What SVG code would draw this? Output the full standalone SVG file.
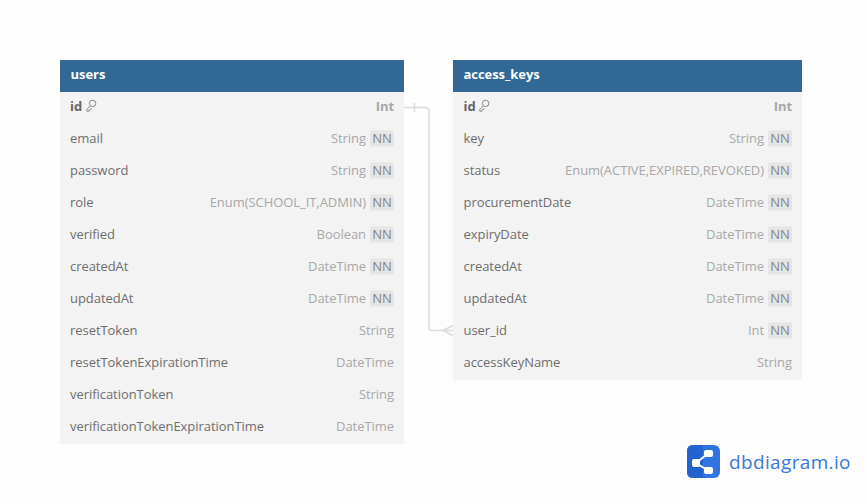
<svg xmlns="http://www.w3.org/2000/svg" width="867" height="504" viewBox="0 0 867 504">
<style>
text{font-family:"Open Sans","Noto Sans","Liberation Sans",sans-serif;font-size:13px;fill:#6e6e6e;letter-spacing:-.05px}
.body{fill:#f3f3f3}
.head{fill:#316896}
.title{font-weight:700;fill:#fff}
.pk{font-weight:700;fill:#666}
.type{fill:#a8a8a8;text-anchor:end}
.typeb{fill:#a8a8a8;font-weight:700;text-anchor:end}
.nnb{fill:#e5e5e5}
.nn{fill:#858585;text-anchor:middle}
.key{fill:none;stroke:#888;stroke-width:1}
.conn{fill:none;stroke:#dcdcdc;stroke-width:1.5}
</style>
<defs>
<g id="nn"><rect class="nnb" x="-24" y="-8" width="24" height="16" rx="2"/><text class="nn" x="-12" y="4.5">NN</text></g>
<g id="keyicon"><circle class="key" cx="6.600" cy="-2.600" r="3.200"/><path class="key" d="M4.400-.2 L.8 3.400 L.8 5.200 L3 5.200 L3.200 3.800 L4.600 3.600 L5.200 2.200"/></g>
</defs>
<rect width="867" height="504" fill="#fdfdfd"/>
<g id="connectors">
<path class="conn" d="M404 107.500H426Q429 107.500 429 110.500V327.500Q429 330.500 432 330.500H453"/>
<path class="conn" d="M414.500 103V112M453 325.500L443 330.500L453 335.500"/>
</g>
<g id="users">
<rect class="body" x="60" y="92" width="344" height="352"/>
<rect class="head" x="60" y="60" width="344" height="32"/>
<text class="title" x="70.500" y="79">users</text>
<text class="pk" x="70" y="111">id</text><use href="#keyicon" x="86" y="106"/><text class="typeb" x="394" y="111">Int</text>
<text x="70" y="143">email</text><text class="type" x="366" y="143">String</text><use href="#nn" x="394" y="138.500"/>
<text x="70" y="175">password</text><text class="type" x="366" y="175">String</text><use href="#nn" x="394" y="170.500"/>
<text x="70" y="207">role</text><text class="type" x="366" y="207">Enum(SCHOOL_IT,ADMIN)</text><use href="#nn" x="394" y="202.500"/>
<text x="70" y="239">verified</text><text class="type" x="366" y="239">Boolean</text><use href="#nn" x="394" y="234.500"/>
<text x="70" y="271">createdAt</text><text class="type" x="366" y="271">DateTime</text><use href="#nn" x="394" y="266.500"/>
<text x="70" y="303">updatedAt</text><text class="type" x="366" y="303">DateTime</text><use href="#nn" x="394" y="298.500"/>
<text x="70" y="335">resetToken</text><text class="type" x="394" y="335">String</text>
<text x="70" y="367">resetTokenExpirationTime</text><text class="type" x="394" y="367">DateTime</text>
<text x="70" y="399">verificationToken</text><text class="type" x="394" y="399">String</text>
<text x="70" y="431">verificationTokenExpirationTime</text><text class="type" x="394" y="431">DateTime</text>
</g>
<g id="access_keys">
<rect class="body" x="453" y="92" width="349" height="288"/>
<rect class="head" x="453" y="60" width="349" height="32"/>
<text class="title" x="463.500" y="79">access_keys</text>
<text class="pk" x="463.500" y="111">id</text><use href="#keyicon" x="479" y="106"/><text class="typeb" x="792" y="111">Int</text>
<text x="463.500" y="143">key</text><text class="type" x="764" y="143">String</text><use href="#nn" x="792" y="138.500"/>
<text x="463.500" y="175">status</text><text class="type" x="764" y="175">Enum(ACTIVE,EXPIRED,REVOKED)</text><use href="#nn" x="792" y="170.500"/>
<text x="463.500" y="207">procurementDate</text><text class="type" x="764" y="207">DateTime</text><use href="#nn" x="792" y="202.500"/>
<text x="463.500" y="239">expiryDate</text><text class="type" x="764" y="239">DateTime</text><use href="#nn" x="792" y="234.500"/>
<text x="463.500" y="271">createdAt</text><text class="type" x="764" y="271">DateTime</text><use href="#nn" x="792" y="266.500"/>
<text x="463.500" y="303">updatedAt</text><text class="type" x="764" y="303">DateTime</text><use href="#nn" x="792" y="298.500"/>
<text x="463.500" y="335">user_id</text><text class="type" x="764" y="335">Int</text><use href="#nn" x="792" y="330.500"/>
<text x="463.500" y="367">accessKeyName</text><text class="type" x="792" y="367">String</text>
</g>
<g id="logo">
<rect x="687" y="445" width="33" height="33" rx="6" fill="#2f74e0"/>
<path d="M693 445H703V478H693Q687 478 687 472V451Q687 445 693 445Z" fill="#2163cf"/>
<path d="M696 463L708 453.500M696 463L708 470.500" fill="none" stroke="#fff" stroke-width="2"/>
<rect x="692" y="459" width="8" height="8" rx="2" fill="#fff"/>
<rect x="704" y="450" width="9" height="7" rx="2" fill="#fff"/>
<rect x="704" y="467" width="9" height="7" rx="2" fill="#fff"/>
<text x="729" y="469" style="font-size:19px;fill:#3a77d8;letter-spacing:.35px">dbdiagram.io</text>
</g>
</svg>
